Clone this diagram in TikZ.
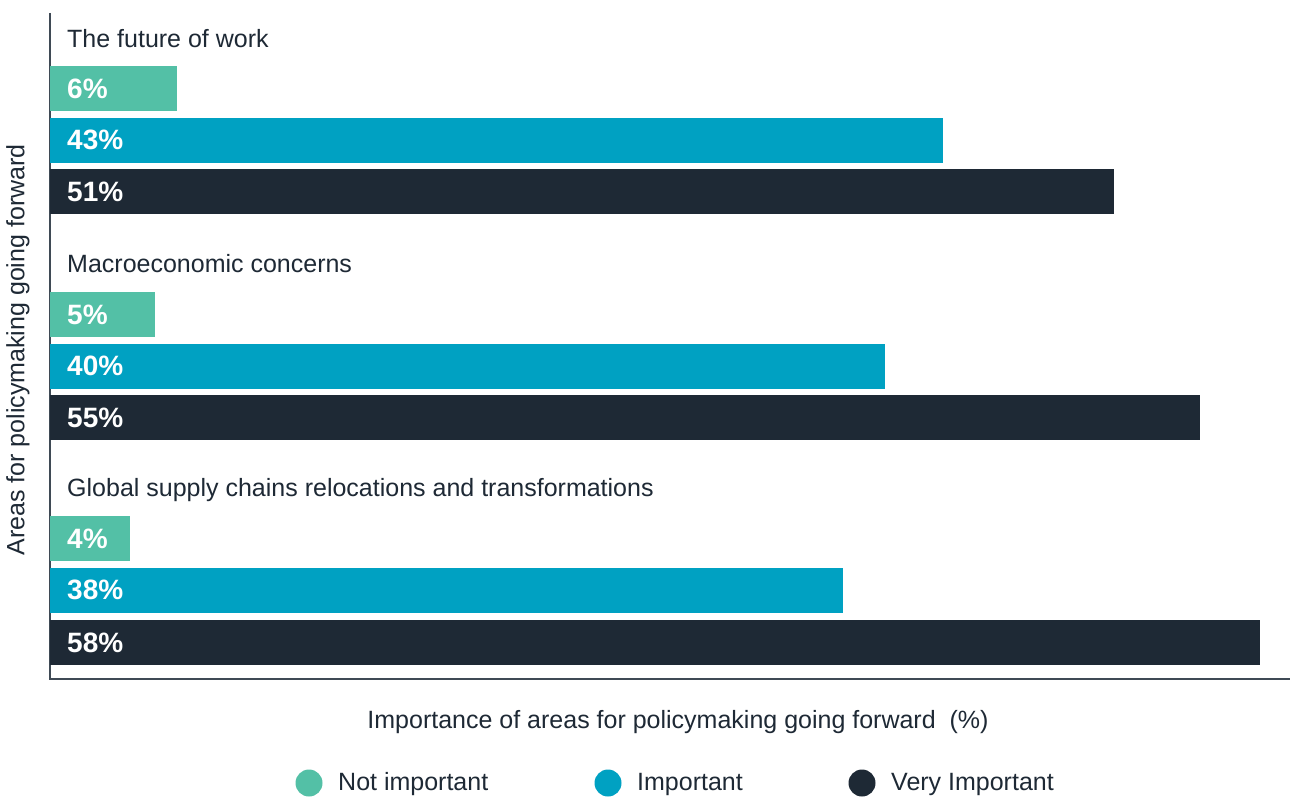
\documentclass[tikz,border=0pt]{standalone}
\usepackage{fontspec}
\setmainfont{Liberation Sans}
\definecolor{cNot}{HTML}{53C0A6}
\definecolor{cImp}{HTML}{00A1C2}
\definecolor{cVery}{HTML}{1E2935}
\definecolor{cTxt}{HTML}{1E2935}
\definecolor{cAxis}{HTML}{3F4A55}
\begin{document}
\begin{tikzpicture}[x=1pt,y=-1pt,
  val/.style={text=white, font=\fontsize{28}{30}\selectfont\bfseries, anchor=west, inner sep=0pt},
  cat/.style={text=cTxt, font=\fontsize{25}{28}\selectfont, anchor=west, inner sep=0pt},
  leg/.style={text=cTxt, font=\fontsize{25}{28}\selectfont, anchor=west, inner sep=0pt},
  ttl/.style={text=cTxt, font=\fontsize{25}{28}\selectfont, inner sep=0pt},
  dot/.style={circle, minimum size=27pt, inner sep=0pt}]
\useasboundingbox[fill=white] (0,0) rectangle (1290,797);
% axes
\coordinate (ytop) at (50,13);
\coordinate (orig) at (50,679);
\coordinate (xend) at (1290,679);
\draw[cAxis, line width=1.3pt] (ytop) -- (orig) -- (xend);
% group 1
\node[cat] (c1) at (67,39) {The future of work};
\fill[cNot] (50,66) rectangle (177,111);
\fill[cImp] (50,118) rectangle (943,163);
\fill[cVery] (50,169) rectangle (1114,214);
\node[val] (v11) at (67,89) {6\%};
\node[val] (v12) at (67,140) {43\%};
\node[val] (v13) at (67,192) {51\%};
% group 2
\node[cat] (c2) at (67,264) {Macroeconomic concerns};
\fill[cNot] (50,292) rectangle (155,337);
\fill[cImp] (50,344) rectangle (885,389);
\fill[cVery] (50,395) rectangle (1200,440);
\node[val] (v21) at (67,315) {5\%};
\node[val] (v22) at (67,366) {40\%};
\node[val] (v23) at (67,418) {55\%};
% group 3
\node[cat] (c3) at (67,490) {Global supply chains relocations and transformations};
\fill[cNot] (50,516) rectangle (130,561);
\fill[cImp] (50,568) rectangle (843,613);
\fill[cVery] (50,620) rectangle (1260,665);
\node[val] (v31) at (67,539) {4\%};
\node[val] (v32) at (67,590) {38\%};
\node[val] (v33) at (67,643) {58\%};
% axis titles
\node[ttl] (xt) at (678,722) {Importance of areas for policymaking going forward\ \ (\%)};
\node[ttl, rotate=90] (yt) at (18,350) {Areas for policymaking going forward};
% legend
\node[dot, fill=cNot] (d1) at (309,783) {};
\node[leg] (l1) at (338,784) {Not important};
\node[dot, fill=cImp] (d2) at (608,783) {};
\node[leg] (l2) at (637,784) {Important};
\node[dot, fill=cVery] (d3) at (862,783) {};
\node[leg] (l3) at (891,784) {Very Important};
\end{tikzpicture}
\end{document}
